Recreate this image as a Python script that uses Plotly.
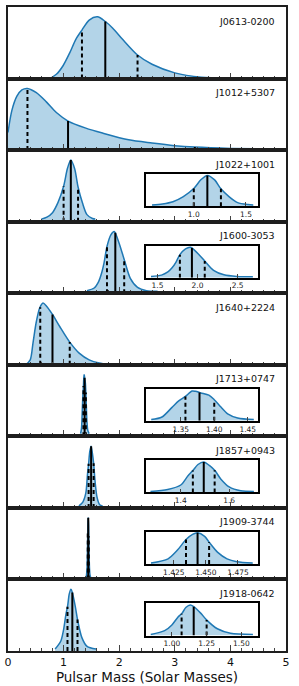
import numpy as np
import plotly.graph_objects as go

# ---------------- data ----------------
names = ["J0613-0200", "J1012+5307", "J1022+1001", "J1600-3053", "J1640+2224",
         "J1713+0747", "J1857+0943", "J1909-3744", "J1918-0642"]

j0613_mass = [0.75, 0.87, 0.99, 1.11, 1.22, 1.33, 1.46, 1.61, 1.75, 1.88, 2.06, 2.33, 2.59, 3.00, 3.48, 4.07, 4.6, 5.0]
j0613_dens = [0.0, 0.06, 0.18, 0.36, 0.55, 0.68, 0.82, 0.865, 0.80, 0.71, 0.55, 0.33, 0.20, 0.08, 0.02, 0.005, 0.0, 0.0]
j0613_pct = [1.33, 1.75, 2.33]

j1012_mass = [0.0, 0.07, 0.16, 0.25, 0.35, 0.51, 0.69, 0.87, 1.08, 1.40, 1.70, 2.17, 2.59, 3.00, 3.36, 4.01, 5.0]
j1012_dens = [0.25, 0.56, 0.76, 0.85, 0.87, 0.81, 0.68, 0.53, 0.41, 0.31, 0.24, 0.145, 0.10, 0.063, 0.043, 0.024, 0.01]
j1012_pct = [0.35, 1.08, 3.36]

j1022_mass = [0.60, 0.70, 0.80, 0.90, 1.00, 1.07, 1.13, 1.20, 1.26, 1.34, 1.42, 1.52, 1.57]
j1022_dens = [0.04, 0.07, 0.14, 0.30, 0.55, 0.83, 0.96, 0.82, 0.54, 0.29, 0.11, 0.05, 0.04]
j1022_pct = [1.00, 1.13, 1.26]

j1600_mass = [1.42, 1.55, 1.63, 1.68, 1.73, 1.78, 1.85, 1.91, 1.93, 2.01, 2.09, 2.20, 2.33, 2.49, 2.69]
j1600_dens = [0.04, 0.08, 0.18, 0.30, 0.48, 0.72, 0.90, 0.95, 0.93, 0.74, 0.52, 0.23, 0.09, 0.04, 0.03]
j1600_pct = [1.78, 1.93, 2.09]

j1640_mass = [0.32, 0.40, 0.45, 0.51, 0.57, 0.63, 0.69, 0.80, 0.93, 1.11, 1.28, 1.46, 1.64, 1.82]
j1640_dens = [0.0, 0.07, 0.31, 0.61, 0.80, 0.87, 0.83, 0.71, 0.54, 0.32, 0.165, 0.07, 0.024, 0.005]
j1640_pct = [0.58, 0.80, 1.11]

j1713_mass = [1.306, 1.322, 1.337, 1.347, 1.357, 1.367, 1.372, 1.380, 1.392, 1.400, 1.410, 1.420, 1.435, 1.459]
j1713_dens = [0.04, 0.12, 0.42, 0.62, 0.76, 0.93, 0.92, 0.87, 0.80, 0.66, 0.43, 0.22, 0.09, 0.04]
j1713_pct = [1.357, 1.378, 1.400]

j1857_mass = [1.275, 1.346, 1.40, 1.43, 1.45, 1.471, 1.495, 1.518, 1.541, 1.566, 1.60, 1.648, 1.702]
j1857_dens = [0.03, 0.09, 0.23, 0.52, 0.68, 0.87, 0.95, 0.84, 0.68, 0.41, 0.17, 0.05, 0.03]
j1857_pct = [1.45, 1.495, 1.54]

j1909_mass = [1.4072, 1.4205, 1.428, 1.4345, 1.4396, 1.4435, 1.449, 1.4525, 1.459, 1.4665, 1.4742, 1.4865]
j1909_dens = [0.03, 0.16, 0.44, 0.76, 0.92, 0.97, 0.86, 0.68, 0.37, 0.16, 0.07, 0.03]
j1909_pct = [1.4345, 1.4435, 1.4525]

j1918_mass = [0.848, 0.948, 1.0, 1.043, 1.072, 1.102, 1.133, 1.157, 1.209, 1.251, 1.327, 1.422, 1.583]
j1918_dens = [0.03, 0.15, 0.33, 0.57, 0.69, 0.88, 0.95, 0.90, 0.69, 0.48, 0.21, 0.07, 0.03]
j1918_pct = [1.07, 1.157, 1.25]

# inset axes: x range, tick values, tick labels (keyed by panel index)
inset_ranges = {2: [0.541, 1.62], 3: [1.356, 2.76], 5: [1.298, 1.466],
                6: [1.256, 1.721], 7: [1.4032, 1.491], 8: [0.813, 1.623]}
inset_tickvals = {2: [1.0, 1.5], 3: [1.5, 2.0, 2.5], 5: [1.35, 1.40, 1.45],
                  6: [1.4, 1.6], 7: [1.425, 1.450, 1.475], 8: [1.00, 1.25, 1.50]}
inset_ticktext = {2: ["1.0", "1.5"], 3: ["1.5", "2.0", "2.5"], 5: ["1.35", "1.40", "1.45"],
                  6: ["1.4", "1.6"], 7: ["1.425", "1.450", "1.475"], 8: ["1.00", "1.25", "1.50"]}

masses = [j0613_mass, j1012_mass, j1022_mass, j1600_mass, j1640_mass,
          j1713_mass, j1857_mass, j1909_mass, j1918_mass]
dens = [j0613_dens, j1012_dens, j1022_dens, j1600_dens, j1640_dens,
        j1713_dens, j1857_dens, j1909_dens, j1918_dens]
pcts = [j0613_pct, j1012_pct, j1022_pct, j1600_pct, j1640_pct,
        j1713_pct, j1857_pct, j1909_pct, j1918_pct]

# ---------------- style ----------------
FONT = "DejaVu Sans"
LINE = "#1f78b4"
FILL = "#b3d4e8"
FRAME = "#1e1e1e"
TICK = "#444444"
W, H = 299, 686
ML, MR, MT, MB = 4, 13, 7, 35
PLOT_H = H - MT - MB
N = 9
ph = 1.0 / N

fig = go.Figure()
layout = {}


def ax_names(k):
    xa = "x" if k == 1 else f"x{k}"
    ya = "y" if k == 1 else f"y{k}"
    xkey = "xaxis" if k == 1 else f"xaxis{k}"
    ykey = "yaxis" if k == 1 else f"yaxis{k}"
    return xa, ya, xkey, ykey


def add_dist(xs, ys, pct, xa, ya):
    fig.add_trace(go.Scatter(x=xs, y=ys, mode="lines",
                             line=dict(color=LINE, width=1.5, shape="spline", smoothing=0.8),
                             fill="tozeroy", fillcolor=FILL, xaxis=xa, yaxis=ya,
                             hoverinfo="skip", showlegend=False))
    for j, v in enumerate(pct):
        h = float(np.interp(v, xs, ys))
        fig.add_trace(go.Scatter(x=[v, v], y=[0, h], mode="lines",
                                 line=dict(color="black", width=2,
                                           dash="solid" if j == 1 else "4px,3px"),
                                 xaxis=xa, yaxis=ya, hoverinfo="skip", showlegend=False))


for i in range(N):
    k = i + 1
    xa, ya, xkey, ykey = ax_names(k)
    xs, ys, pct = masses[i], dens[i], pcts[i]
    add_dist(xs, ys, pct, xa, ya)
    d0 = 1 - (i + 1) * ph
    d1 = 1 - i * ph
    layout[xkey] = dict(domain=[0, 1], range=[0, 5], anchor=ya, showline=True, mirror=True,
                        linecolor=FRAME, linewidth=2, ticks="inside", ticklen=6, tickwidth=1.2,
                        tickcolor=TICK, tickmode="linear", tick0=0, dtick=1,
                        showticklabels=(i == N - 1),
                        tickfont=dict(family=FONT, size=11, color="#111"),
                        showgrid=False, zeroline=False,
                        minor=dict(ticks="inside", tickmode="linear", tick0=0, dtick=0.2,
                                   ticklen=3, tickcolor=TICK, tickwidth=1, showgrid=False))
    if i == N - 1:
        layout[xkey]["title"] = dict(text="Pulsar Mass (Solar Masses)",
                                     font=dict(family=FONT, size=13.5, color="#111"),
                                     standoff=2)
    layout[ykey] = dict(domain=[d0, d1], range=[0, max(ys) * 1.16], anchor=xa,
                        showline=True, mirror=True, linecolor=FRAME, linewidth=2,
                        showticklabels=False, ticks="", showgrid=False, zeroline=False)
    fig.add_annotation(text=names[i], xref=f"{xa} domain", yref=f"{ya} domain",
                       x=1 - 9 / 282, y=1 - 14 / (PLOT_H / N), xanchor="right", yanchor="middle",
                       showarrow=False, font=dict(family=FONT, size=9.5, color="#111"))

    if i in inset_ranges:
        kk = 10 + i
        ixa, iya, ixkey, iykey = ax_names(kk)
        add_dist(xs, ys, pct, ixa, iya)
        layout[ixkey] = dict(domain=[0.496, 0.901], range=inset_ranges[i], anchor=iya,
                             showline=True, mirror=True, linecolor="black", linewidth=1.5,
                             ticks="inside", ticklen=4, tickwidth=1, tickcolor=TICK,
                             tickvals=inset_tickvals[i], ticktext=inset_ticktext[i],
                             tickfont=dict(family=FONT, size=7.5, color="#222"),
                             showgrid=False, zeroline=False)
        layout[iykey] = dict(domain=[d0 + 15.5 / PLOT_H, d1 - 24 / PLOT_H], range=[0, 1.0],
                             anchor=ixa, showline=True, mirror=True, linecolor="black",
                             linewidth=1.5, showticklabels=False, ticks="",
                             showgrid=False, zeroline=False)

fig.update_layout(width=W, height=H, margin=dict(l=ML, r=MR, t=MT, b=MB),
                  paper_bgcolor="white", plot_bgcolor="white", showlegend=False,
                  font=dict(family=FONT), **layout)

fig.write_html("out.html", config={"displayModeBar": False},
               post_script="document.body.style.margin='0';")
